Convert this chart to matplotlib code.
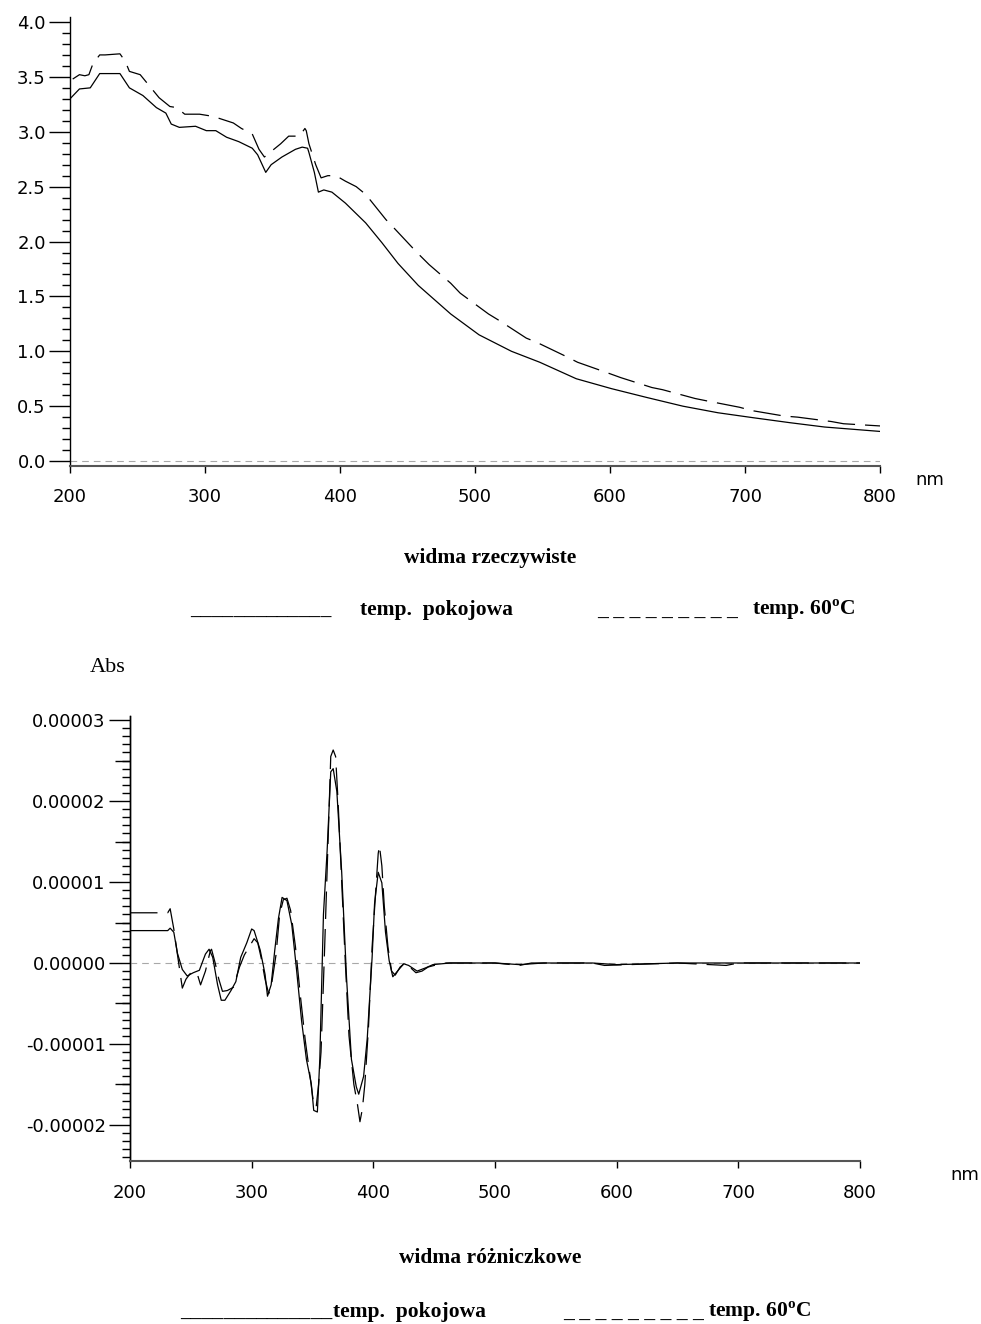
import matplotlib
matplotlib.use("Agg")
import matplotlib.pyplot as plt
from matplotlib.ticker import MultipleLocator, FuncFormatter

# widma rzeczywiste (absorbancja)
wl_room = [200, 207, 215, 222, 237, 244, 254, 264, 271, 275, 281, 293, 301, 308, 316, 325,
           335, 339, 345, 349, 357, 367, 372, 376, 377, 381, 384, 388, 394, 404, 419, 431,
           443, 458, 482, 503, 527, 548, 575, 601, 627, 654, 680, 706, 733, 759, 800]
abs_room = [3.30, 3.39, 3.40, 3.53, 3.53, 3.40, 3.33, 3.22, 3.17, 3.07, 3.04, 3.05, 3.01, 3.01, 2.95, 2.91,
            2.85, 2.79, 2.63, 2.70, 2.77, 2.84, 2.86, 2.85, 2.81, 2.63, 2.45, 2.47, 2.45, 2.35, 2.17, 1.99,
            1.80, 1.60, 1.34, 1.15, 1.00, 0.90, 0.75, 0.66, 0.58, 0.50, 0.44, 0.395, 0.35, 0.31, 0.27]

wl_60 = [202, 207, 211, 214, 217, 222, 226, 237, 241, 244, 252, 266, 274, 279, 285, 296,
         306, 321, 327, 335, 340, 344, 349, 356, 362, 370, 374, 375, 377, 382, 386, 391,
         397, 404, 412, 419, 434, 441, 457, 466, 482, 489, 510, 518, 538, 546, 568, 576,
         599, 608, 631, 639, 663, 671, 696, 705, 729, 739, 764, 773, 800]
abs_60 = [3.48, 3.52, 3.51, 3.52, 3.62, 3.70, 3.70, 3.71, 3.64, 3.55, 3.52, 3.31, 3.23, 3.22, 3.16, 3.16,
          3.14, 3.08, 3.03, 2.98, 2.84, 2.77, 2.82, 2.89, 2.96, 2.96, 3.03, 3.01, 2.89, 2.70, 2.58, 2.60,
          2.60, 2.55, 2.50, 2.43, 2.20, 2.11, 1.90, 1.79, 1.62, 1.53, 1.34, 1.28, 1.12, 1.08, 0.95, 0.90,
          0.80, 0.76, 0.67, 0.65, 0.57, 0.55, 0.49, 0.46, 0.41, 0.40, 0.36, 0.34, 0.32]

# widma różniczkowe (w jednostkach 1e-5)
dwl_room = [200, 231, 233, 236, 239, 243, 247, 252, 257, 262, 265, 268, 272, 275, 278, 283,
            287, 291, 296, 300, 302, 307, 311, 313, 316, 319, 322, 325, 329, 333, 337, 341,
            345, 349, 351, 354, 356, 359, 362, 365, 367, 370, 374, 378, 382, 386, 388, 392,
            395, 399, 401, 404, 407, 410, 413, 416, 421, 425, 429, 436, 443, 449, 463, 500,
            520, 540, 580, 600, 650, 700, 750, 800]
der_room = [0.40, 0.40, 0.43, 0.38, 0.12, -0.08, -0.16, -0.12, -0.09, 0.11, 0.17, 0.07, -0.27, -0.46, -0.46, -0.34,
            -0.23, 0.07, 0.25, 0.42, 0.40, 0.16, -0.14, -0.41, -0.27, 0.16, 0.55, 0.81, 0.77, 0.47, -0.10, -0.71,
            -1.19, -1.49, -1.82, -1.84, -1.19, 0.60, 1.38, 2.36, 2.40, 2.12, 1.12, -0.19, -1.19, -1.53, -1.62, -1.40,
            -0.93, 0.07, 0.73, 1.12, 0.99, 0.38, 0.03, -0.17, -0.08, -0.01, -0.03, -0.10, -0.06, -0.02, 0.0, 0.0,
            -0.02, 0.0, 0.0, -0.02, 0.0, 0.0, 0.0, 0.0]

dwl_60 = [200, 231, 233, 236, 240, 243, 246, 250, 255, 258, 262, 266, 267, 270, 273, 276,
          280, 285, 290, 294, 298, 302, 305, 308, 311, 314, 316, 320, 323, 326, 329, 332,
          336, 340, 344, 348, 351, 353, 355, 357, 360, 363, 365, 367, 369, 371, 374, 377,
          380, 384, 387, 389, 391, 393, 396, 399, 402, 404, 405, 407, 409, 412, 415, 418,
          422, 426, 430, 435, 440, 445, 450, 460, 500, 520, 530, 580, 590, 650, 690, 700,
          750, 800]
der_60 = [0.62, 0.62, 0.67, 0.42, 0.0, -0.31, -0.20, -0.12, -0.12, -0.27, -0.10, 0.15, 0.17, 0.0, -0.20, -0.35,
          -0.34, -0.30, -0.05, 0.10, 0.20, 0.30, 0.25, 0.05, -0.20, -0.38, -0.30, 0.10, 0.60, 0.78, 0.80, 0.65,
          0.20, -0.40, -0.95, -1.40, -1.75, -1.78, -1.50, -1.10, 0.20, 1.60, 2.55, 2.63, 2.55, 2.00, 1.00, 0.0,
          -0.90, -1.50, -1.75, -1.96, -1.80, -1.50, -0.80, 0.20, 0.90, 1.35, 1.45, 1.20, 0.70, 0.20, -0.10, -0.15,
          -0.05, 0.0, -0.05, -0.12, -0.10, -0.05, -0.03, 0.0, 0.0, -0.03, 0.0, 0.0, -0.03, 0.0, -0.03, 0.0,
          0.0, 0.0]

x_ticks = [200, 300, 400, 500, 600, 700, 800]

plt.rcParams["axes.unicode_minus"] = False
plt.rcParams["font.family"] = ["DejaVu Sans"]
plt.rcParams["mathtext.fontset"] = "custom"
plt.rcParams["mathtext.rm"] = "Liberation Serif"
plt.rcParams["mathtext.bf"] = "Liberation Serif:bold"

W, H = 981, 1324
fig = plt.figure(figsize=(W / 100, H / 100), dpi=100, facecolor="white")
TICK_FS = 13


def style_axes(ax, xpad):
    for s in ("top", "right"):
        ax.spines[s].set_visible(False)
    ax.spines["left"].set_linewidth(1.0)
    ax.spines["bottom"].set_linewidth(1.5)
    ax.spines["bottom"].set_color("#555555")
    ax.set_xlim(200, 800)
    ax.set_xticks(x_ticks)
    ax.tick_params(axis="x", which="major", length=5, width=1, pad=xpad, labelsize=TICK_FS)
    ax.tick_params(axis="y", which="major", length=15, width=1, pad=2.5, labelsize=TICK_FS)
    ax.tick_params(axis="y", which="minor", length=6, width=1)
    ax.axhline(0, color="#a8a8a8", lw=0.8, dashes=(6, 4.5), zorder=1)


# --- górny wykres ---
ax1 = fig.add_axes([70 / W, 1 - 466 / H, 810 / W, 449.5 / H])
style_axes(ax1, 10.5)
ax1.plot(wl_room, abs_room, color="black", lw=0.9)
ax1.plot(wl_60, abs_60, color="black", lw=0.9, dashes=(22, 8))
ax1.set_ylim(-0.045, 4.05)
ax1.yaxis.set_major_locator(MultipleLocator(0.5))
ax1.yaxis.set_minor_locator(MultipleLocator(0.1))
ax1.yaxis.set_major_formatter(FuncFormatter(lambda v, p: f"{v:.1f}"))

# --- dolny wykres ---
ax2 = fig.add_axes([130 / W, 1 - 1160.6 / H, 730 / W, 444.6 / H])
style_axes(ax2, 12)
ax2.plot(dwl_room, [v * 1e-5 for v in der_room], color="black", lw=0.9)
ax2.plot(dwl_60, [v * 1e-5 for v in der_60], color="black", lw=0.9, dashes=(22, 8))
ax2.set_ylim(-2.44e-5, 3.05e-5)
ax2.yaxis.set_major_locator(MultipleLocator(1e-5))
ax2.yaxis.set_minor_locator(MultipleLocator(1e-6))
ax2.yaxis.set_major_formatter(FuncFormatter(lambda v, p: f"{v:.5f}"))
ax2.yaxis.get_offset_text().set_visible(False)
# średnie kreski co 0.000005
sec = ax2.secondary_yaxis("left")
sec.set_yticks([-1.5e-5, -0.5e-5, 0.5e-5, 1.5e-5, 2.5e-5])
sec.set_yticklabels([])
sec.tick_params(length=11, width=1)
sec.spines["left"].set_linewidth(1.0)

# --- napisy ---
fig.text(930 / W, 1 - 480 / H, "nm", ha="center", va="center", fontsize=TICK_FS)
fig.text(965 / W, 1 - 1175 / H, "nm", ha="center", va="center", fontsize=TICK_FS)

serif = "Liberation Serif"
LEG_FS = 15.5
fig.text(490 / W, 1 - 563 / H, "widma rzeczywiste", ha="center", va="baseline",
         fontsize=15.5, fontweight="bold", family=serif)
fig.text(190 / W, 1 - 615 / H, "_____________", ha="left", va="baseline",
         fontsize=LEG_FS, fontweight="bold", family=serif)
fig.text(360 / W, 1 - 615 / H, "temp.  pokojowa", ha="left", va="baseline",
         fontsize=LEG_FS, fontweight="bold", family=serif)
fig.text(597 / W, 1 - 615 / H, "_ _ _ _ _ _ _ _ _", ha="left", va="baseline",
         fontsize=LEG_FS, fontweight="bold", family=serif)
fig.text(752 / W, 1 - 615 / H, r"temp. 60$^{\mathbf{o}}$C", ha="left", va="baseline",
         fontsize=LEG_FS, fontweight="bold", family=serif)

fig.text(90 / W, 1 - 672 / H, "Abs", ha="left", va="baseline", fontsize=16, family=serif)

fig.text(490 / W, 1 - 1263 / H, "widma różniczkowe", ha="center", va="baseline",
         fontsize=15.5, fontweight="bold", family=serif)
fig.text(180 / W, 1 - 1317 / H, "______________", ha="left", va="baseline",
         fontsize=LEG_FS, fontweight="bold", family=serif)
fig.text(333 / W, 1 - 1317 / H, "temp.  pokojowa", ha="left", va="baseline",
         fontsize=LEG_FS, fontweight="bold", family=serif)
fig.text(563 / W, 1 - 1317 / H, "_ _ _ _ _ _ _ _ _", ha="left", va="baseline",
         fontsize=LEG_FS, fontweight="bold", family=serif)
fig.text(708 / W, 1 - 1317 / H, r"temp. 60$^{\mathbf{o}}$C", ha="left", va="baseline",
         fontsize=LEG_FS, fontweight="bold", family=serif)

fig.savefig("out.png", dpi=100, facecolor="white")
plt.close(fig)
